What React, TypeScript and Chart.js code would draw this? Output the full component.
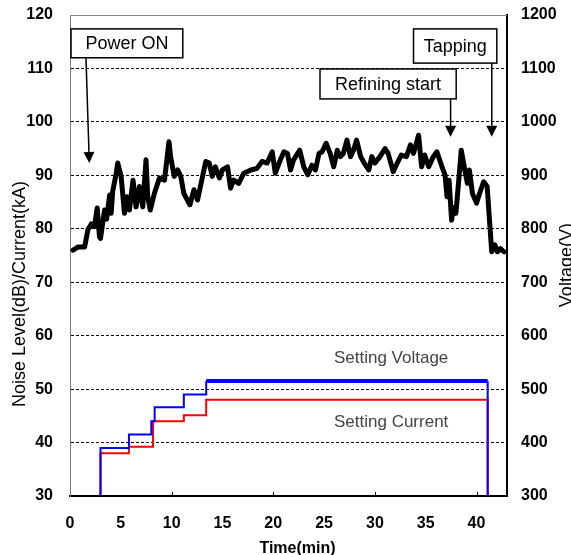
import React, { useEffect, useRef } from 'react';
import { Chart, registerables } from 'chart.js';

Chart.register(...registerables);

// ---- data ----
const noiseTime = [
  0.3, 0.8, 1.44, 1.76, 2.1, 2.4, 2.68, 2.9, 3.0, 3.4, 3.6, 3.9, 4.05, 4.2, 4.55, 4.7, 5.03, 5.36, 5.6, 5.85,
  6.2, 6.5, 6.83, 7.16, 7.48, 7.65, 7.9, 8.3, 8.8, 9.3, 9.74, 9.9, 10.26, 10.6, 10.9, 11.2, 11.8, 12.2, 12.55, 12.9,
  13.36, 13.7, 14.0, 14.3, 14.7, 15.0, 15.5, 15.8, 16.1, 16.6, 17.1, 17.8, 18.4, 18.9, 19.4, 19.9, 20.2, 20.7, 21.05, 21.4,
  21.7, 22.0, 22.6, 23.0, 23.4, 23.8, 24.15, 24.5, 24.8, 25.2, 25.6, 25.95, 26.3, 26.6, 26.9, 27.25, 27.6, 27.9, 28.2, 28.6,
  28.95, 29.4, 29.7, 30.0, 30.5, 31.0, 31.3, 31.8, 32.2, 32.6, 33.1, 33.5, 33.8, 34.3, 34.6, 34.9, 35.3, 35.75, 36.1, 36.6,
  36.9, 37.1, 37.3, 37.55, 37.7, 37.97, 38.2, 38.5, 38.85, 39.1, 39.3, 39.6, 40.0, 40.3, 40.7, 41.05, 41.25, 41.5, 41.8, 42.06,
  42.35, 42.7,
];
const noiseLevel = [
  76.0, 76.6, 76.6, 79.8, 80.9, 80.4, 83.9, 78.5, 78.2, 83.5, 81.8, 86.3, 82.9, 87.0, 90.4, 92.3, 89.8, 82.9, 86.0, 83.5,
  89.1, 84.1, 87.9, 84.1, 92.9, 86.0, 83.5, 86.6, 89.5, 89.1, 96.3, 93.5, 89.8, 91.0, 89.8, 86.6, 84.5, 87.3, 85.4, 88.5,
  92.6, 92.3, 89.8, 91.6, 89.5, 91.0, 91.6, 87.6, 89.1, 88.5, 90.4, 91.0, 91.3, 92.6, 92.3, 94.4, 90.4, 92.9, 94.4, 94.1,
  91.0, 92.9, 94.7, 91.6, 90.1, 91.9, 91.0, 94.1, 94.4, 96.0, 94.1, 91.6, 94.7, 93.5, 94.1, 96.6, 93.5, 94.7, 96.6, 93.5,
  92.3, 91.0, 93.5, 92.3, 93.5, 95.0, 94.1, 90.7, 92.3, 93.8, 93.5, 95.7, 94.1, 97.5, 91.6, 93.8, 91.6, 93.5, 94.4, 91.6,
  90.1, 86.0, 89.1, 81.6, 84.0, 82.9, 87.9, 94.7, 91.0, 88.5, 91.0, 86.6, 84.8, 86.6, 88.8, 87.9, 82.3, 75.7, 77.0, 75.7,
  76.3, 75.7,
];

const currentTime = [3.0, 3.0, 5.8, 8.17, 11.2, 13.4, 41.1, 41.1];
const currentValue = [30, 38.0, 39.2, 44.0, 45.1, 48.0, 48.0, 30];

const voltageTime = [3.0, 3.0, 5.8, 8.0, 8.33, 11.2, 13.4, 41.1, 41.1];
const voltageValue = [300, 390, 415, 440, 466, 490, 515, 515, 300];

const xTickStep = 5;
const leftMin = 30;
const leftMax = 120;
const rightMin = 300;
const rightMax = 1200;
const xMin = 0;
const xMax = 43;
const xMarkTicks = [10, 20, 30, 40];

const FONT = '"Liberation Sans", Arial, sans-serif';

// annotation callouts (data coordinates)
const callouts = [
  { text: 'Power ON', x0: 0.1, x1: 11.1, yTop: 117.4, yBot: 112.0, ax0: 1.57, ay0: 112.0, ax1: 1.9, ay1: 92.3 },
  { text: 'Refining start', x0: 24.6, x1: 38.0, yTop: 109.9, yBot: 104.3, ax0: 37.45, ay0: 104.3, ax1: 37.45, ay1: 97.2 },
  { text: 'Tapping', x0: 33.8, x1: 42.0, yTop: 117.4, yBot: 111.0, ax0: 41.5, ay0: 111.0, ax1: 41.5, ay1: 97.2 },
];
const seriesLabels = [
  { text: 'Setting Voltage', x: 31.6, y: 55.8 },
  { text: 'Setting Current', x: 31.6, y: 43.7 },
];

const overlayPlugin = {
  id: 'overlay',
  afterDraw(chart: any) {
    const { ctx, chartArea, scales } = chart;
    const xs = scales.x;
    const ys = scales.y;
    ctx.save();
    // top frame line
    ctx.strokeStyle = '#888';
    ctx.lineWidth = 1;
    ctx.beginPath();
    ctx.moveTo(chartArea.left, Math.round(chartArea.top) + 0.5);
    ctx.lineTo(chartArea.right, Math.round(chartArea.top) + 0.5);
    ctx.stroke();
    // small inner tick marks on x axis
    ctx.strokeStyle = '#000';
    ctx.lineWidth = 1;
    xMarkTicks.forEach((v) => {
      const px = Math.round(xs.getPixelForValue(v)) + 0.5;
      ctx.beginPath();
      ctx.moveTo(px, chartArea.bottom);
      ctx.lineTo(px, chartArea.bottom - 4);
      ctx.stroke();
    });
    // series labels
    ctx.fillStyle = '#444';
    ctx.font = `17px ${FONT}`;
    ctx.textAlign = 'center';
    ctx.textBaseline = 'middle';
    seriesLabels.forEach((l) => {
      ctx.fillText(l.text, xs.getPixelForValue(l.x), ys.getPixelForValue(l.y));
    });
    // callouts
    callouts.forEach((c) => {
      const l = xs.getPixelForValue(c.x0);
      const r = xs.getPixelForValue(c.x1);
      const t = ys.getPixelForValue(c.yTop);
      const b = ys.getPixelForValue(c.yBot);
      ctx.fillStyle = '#fff';
      ctx.fillRect(l, t, r - l, b - t);
      ctx.strokeStyle = '#000';
      ctx.lineWidth = 1.5;
      ctx.strokeRect(l, t, r - l, b - t);
      ctx.fillStyle = '#000';
      ctx.font = `18px ${FONT}`;
      ctx.textAlign = 'center';
      ctx.textBaseline = 'middle';
      ctx.fillText(c.text, (l + r) / 2, (t + b) / 2 + 1);
      // arrow
      const sx = xs.getPixelForValue(c.ax0);
      const sy = ys.getPixelForValue(c.ay0);
      const ex = xs.getPixelForValue(c.ax1);
      const ey = ys.getPixelForValue(c.ay1);
      const ang = Math.atan2(ey - sy, ex - sx);
      const head = 11;
      const hw = 5.5;
      const bx = ex - head * Math.cos(ang);
      const by = ey - head * Math.sin(ang);
      ctx.lineWidth = 1.5;
      ctx.beginPath();
      ctx.moveTo(sx, sy);
      ctx.lineTo(bx, by);
      ctx.stroke();
      ctx.beginPath();
      ctx.moveTo(ex, ey);
      ctx.lineTo(bx + hw * Math.sin(ang), by - hw * Math.cos(ang));
      ctx.lineTo(bx - hw * Math.sin(ang), by + hw * Math.cos(ang));
      ctx.closePath();
      ctx.fill();
    });
    // axis titles
    ctx.fillStyle = '#000';
    ctx.textAlign = 'center';
    ctx.textBaseline = 'middle';
    ctx.font = `18px ${FONT}`;
    ctx.save();
    ctx.translate(20, chartArea.top + (chartArea.bottom - chartArea.top) * 0.58);
    ctx.rotate(-Math.PI / 2);
    ctx.fillText('Noise Level(dB)/Current(kA)', 0, 0);
    ctx.restore();
    ctx.save();
    ctx.translate(567, chartArea.top + (chartArea.bottom - chartArea.top) * 0.52);
    ctx.rotate(-Math.PI / 2);
    ctx.fillText('Voltage(V)', 0, 0);
    ctx.restore();
    ctx.font = `bold 16px ${FONT}`;
    ctx.fillText('Time(min)', (chartArea.left + chartArea.right) / 2 + 9, 549);
    ctx.restore();
  },
};

const plain = (v: any) => String(v);

export default function App() {
  const ref = useRef<HTMLCanvasElement | null>(null);

  useEffect(() => {
    if (!ref.current) return;
    const chart = new Chart(ref.current, {
      type: 'line',
      data: {
        datasets: [
          {
            label: 'Noise Level',
            data: noiseTime.map((t, i) => ({ x: t, y: noiseLevel[i] })),
            borderColor: '#000',
            borderWidth: 5,
            pointRadius: 0,
            tension: 0,
            borderJoinStyle: 'round',
            borderCapStyle: 'round',
            yAxisID: 'y',
            order: 1,
          },
          {
            label: 'Setting Current',
            data: currentTime.map((t, i) => ({ x: t, y: currentValue[i] })),
            borderColor: '#ff0000',
            borderWidth: 2,
            pointRadius: 0,
            stepped: true,
            yAxisID: 'y',
            order: 3,
          },
          {
            label: 'Setting Voltage',
            data: voltageTime.map((t, i) => ({ x: t, y: voltageValue[i] })),
            borderColor: '#0000ff',
            borderWidth: 2,
            pointRadius: 0,
            stepped: true,
            yAxisID: 'y2',
            order: 2,
            segment: {
              borderWidth: (c: any) =>
                c.p0.parsed.x >= 13.4 && c.p1.parsed.x > c.p0.parsed.x ? 4 : 2,
            },
          },
        ] as any,
      },
      options: {
        animation: false,
        responsive: false,
        devicePixelRatio: 1,
        layout: { padding: { top: 15, left: 0, right: 0, bottom: 0 } },
        plugins: { legend: { display: false }, tooltip: { enabled: false } },
        scales: {
          x: {
            type: 'linear',
            min: xMin,
            max: xMax,
            ticks: {
              stepSize: xTickStep,
              includeBounds: false,
              padding: 18,
              color: '#000',
              font: { family: FONT, size: 16, weight: 'bold' },
              maxRotation: 0,
              callback: plain,
            },
            grid: { display: false, drawTicks: false },
            border: { display: true, color: '#000', width: 2 },
            afterFit: (s: any) => {
              s.height = 64;
              s.paddingLeft = 0;
              s.paddingRight = 0;
            },
          },
          y: {
            position: 'left',
            min: leftMin,
            max: leftMax,
            ticks: {
              stepSize: 10,
              padding: 17,
              color: '#000',
              font: { family: FONT, size: 16, weight: 'bold' },
              callback: plain,
            },
            grid: {
              drawTicks: false,
              lineWidth: 1,
              color: (c: any) =>
                c.tick && (c.tick.value === leftMin || c.tick.value === leftMax) ? 'rgba(0,0,0,0)' : '#000',
            },
            border: { display: true, color: '#777', width: 1, dash: [3, 2] },
            afterFit: (s: any) => {
              s.width = 70;
              s.paddingTop = 0;
              s.paddingBottom = 0;
            },
          },
          y2: {
            position: 'right',
            min: rightMin,
            max: rightMax,
            ticks: {
              stepSize: 100,
              padding: 14,
              color: '#000',
              font: { family: FONT, size: 16, weight: 'bold' },
              callback: plain,
            },
            grid: { drawOnChartArea: false, drawTicks: false },
            border: { display: true, color: '#000', width: 2 },
            afterFit: (s: any) => {
              s.width = 93;
              s.paddingTop = 0;
              s.paddingBottom = 0;
            },
          },
        },
      } as any,
      plugins: [overlayPlugin],
    });
    return () => chart.destroy();
  }, []);

  return (
    <div style={{ position: 'absolute', left: 0, top: 0, width: 571, height: 555, overflow: 'hidden', background: '#fff' }}>
      <canvas ref={ref} width={600} height={560} style={{ display: 'block' }} />
    </div>
  );
}
